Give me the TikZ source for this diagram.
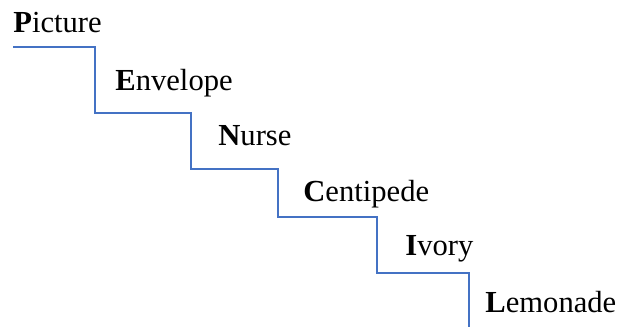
\documentclass[tikz,border=0pt]{standalone}
\usepackage{fontspec}
\setmainfont{Liberation Serif}
\usepackage{tikz}
\tikzstyle{stairPlan} = [x = .5pt, y = -.5pt]
\definecolor{stairColor}{RGB}{68,114,196}
\tikzstyle{stairLine} = [color=stairColor, line width=.65pt]
\newcommand{\wordFont}{\fontsize{15.3}{18}\selectfont}
\tikzstyle{wordText} = [anchor=base west, inner sep=0, font=\wordFont]
\newcommand{\stairWord}[4]{\node [wordText] (#1) at (#2, #3) {#4};}
\newcommand{\stairCorner}[3]{\coordinate (#1) at (#2, #3);}

\begin{document}
\begin{tikzpicture}[stairPlan]
        \useasboundingbox (0,0) rectangle (623,327);
        \stairWord{picture}{13}{32}{\textbf{P}icture}
        \stairWord{envelope}{115}{90}{\textbf{E}nvelope}
        \stairWord{nurse}{218}{145}{\textbf{N}urse}
        \stairWord{centipede}{303}{201}{\textbf{C}entipede}
        \stairWord{ivory}{405}{255}{\textbf{I}vory}
        \stairWord{lemonade}{485}{312}{\textbf{L}emonade}

        \stairCorner{s0}{13}{47}
        \stairCorner{s1}{95}{113}
        \stairCorner{s2}{191}{169}
        \stairCorner{s3}{278}{217}
        \stairCorner{s4}{377}{273}
        \stairCorner{s5}{469}{327}
        \draw [stairLine] (s0) -| (s1) -| (s2) -| (s3) -| (s4) -| (s5);
      \end{tikzpicture}
\end{document}
